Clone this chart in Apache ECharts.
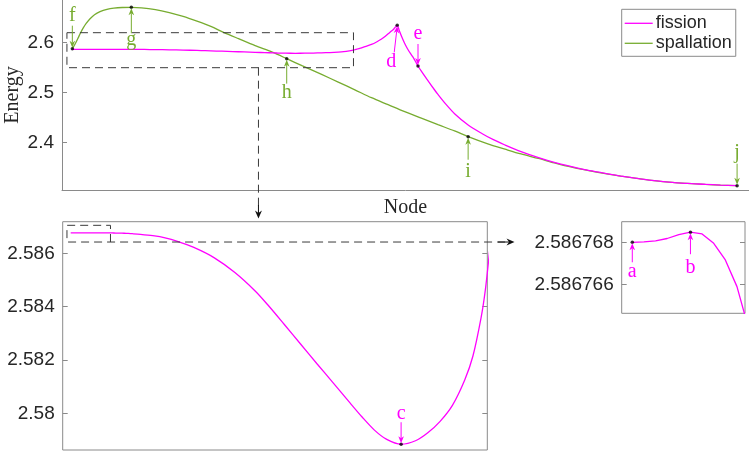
<!DOCTYPE html>
<html><head><meta charset="utf-8">
<script src="https://cdn.jsdelivr.net/npm/echarts@6/dist/echarts.min.js"></script>
<style>html,body{margin:0;padding:0;background:#fff}#c{width:749px;height:455px}</style>
</head><body><div id="c"></div>
<script>
// ---------------- data ----------------
const fissionNodes = [0,1,2,3,4,5,6,7,8,9,10,11,12,13,14,15,17,20,23,26,30,35,40,45,48,52,56,60,64,68,71,74,77,80.5,84,87,90,93,96,98,100,101,102,103,104,106,108,110,111.5,113,114.5,116,117.3,118,119,120,121,122,123,124,124.8,126,128,130.8,132,135,138,142.9,148,152,156.2,162,168.3,174,180.3,186,192.4,198,204.5,210,216.6,222,228.6,234,240];
const fissionEnergy = [2.58676800,2.58676802,2.58676807,2.58676818,2.58676837,2.58676848,2.58676840,2.58676795,2.58676716,2.58676589,2.58676389,2.5867605,2.586757,2.586752,2.586745,2.586736,2.586712,2.58666,2.58658,2.58645,2.58622,2.58583,2.58528,2.58458,2.58407,2.58334,2.58260,2.58186,2.58113,2.58040,2.57986,2.57937,2.57902,2.57884,2.57897,2.57927,2.57970,2.58030,2.58125,2.58215,2.58360,2.58460,2.58600,2.5875,2.5891,2.5925,2.5965,2.6020,2.6068,2.6130,2.6200,2.6270,2.6348,2.6250,2.6110,2.5985,2.5880,2.5790,2.5710,2.5615,2.5534,2.5430,2.5270,2.5054,2.4965,2.4760,2.4580,2.4354,2.4180,2.4060,2.3954,2.3820,2.3700,2.3605,2.3520,2.3450,2.3388,2.3332,2.3282,2.3242,2.3208,2.3185,2.3168,2.3152,2.3140];
const spallationNodes = [0,1,2,3,4,5,6.4,8,10,12.5,15,18,21.3,25,30,35,40,45,50,54.6,60,66,72.2,77.4,83.1,90,96,102,108,114,120,126,132,138,142.9,150,156.2,162,168.3,174,180.3,186,192.4,198,204.5,210,216.6,222,228.6,234,240];
const spallationEnergy = [2.5880,2.5975,2.6085,2.6200,2.6300,2.6385,2.6480,2.6560,2.6620,2.6665,2.6690,2.6704,2.6708,2.6698,2.6660,2.6600,2.6525,2.6430,2.6325,2.6208,2.6080,2.5940,2.5810,2.5681,2.5535,2.5365,2.5213,2.5058,2.4900,2.4760,2.4620,2.4490,2.4360,2.4235,2.4120,2.3975,2.3870,2.3775,2.3685,2.3598,2.3510,2.3445,2.3380,2.3330,2.3280,2.3240,2.3205,2.3185,2.3165,2.3152,2.3140];

const mainTickValues = [2.4, 2.5, 2.6];
const mainTickLabels = ['2.4', '2.5', '2.6'];
const zoomTickValues = [2.58, 2.582, 2.584, 2.586];
const zoomTickLabels = ['2.58', '2.582', '2.584', '2.586'];
const detailTickValues = [2.586766, 2.586768];
const detailTickLabels = ['2.586766', '2.586768'];

const fissionMarkLabels = ['a','b','c','d','e'];
const fissionMarkNodes = [0, 5, 80.5, 117.3, 124.8];
const spallationMarkLabels = ['f','g','h','i','j'];
const spallationMarkNodes = [0, 21.3, 77.4, 142.9, 240];

// axis windows
const mainRange = {x:[-3.73, 244.3], y:[2.3054, 2.6854]};
const zoomRange = {x:[-1.95, 101.5], y:[2.578624, 2.587186]};
const detailRange = {x:[-0.91, 9.69], y:[2.58676462, 2.58676898]};

// ---------------- style ----------------
const MAG = '#FF00FF', GRN = '#77AC30', AX = '#8a8a8a', TXT = '#262626';
const SANS = '"Liberation Sans", Arial, sans-serif';
const SERIF = '"Liberation Serif", "Times New Roman", serif';

const pairs = (xs, ys) => xs.map((x, i) => [x, ys[i]]);
const fissionData = pairs(fissionNodes, fissionEnergy);
const spallData = pairs(spallationNodes, spallationEnergy);
const valAt = (xs, ys, n) => ys[xs.indexOf(n)];

const annot = {
  a: {grid: 2, yi: 3, tail: 20, cy: 29},
  b: {grid: 2, yi: 3, tail: 22, cy: 36},
  c: {grid: 1, yi: 1, tail: -22, cy: -30},
  d: {grid: 0, yi: 0, tail: 27, tdx: -3, cy: 36, dx: -6},
  e: {grid: 0, yi: 0, tail: -22, cy: -32},
  f: {grid: 0, yi: 0, tail: -23, cy: -33},
  g: {grid: 0, yi: 0, tail: 26, cy: 32},
  h: {grid: 0, yi: 0, tail: 25, cy: 34},
  i: {grid: 0, yi: 0, tail: 23, cy: 35},
  j: {grid: 0, yi: 0, tail: -22, cy: -33}
};
const marks = [];
fissionMarkLabels.forEach((l, i) => marks.push({l, node: fissionMarkNodes[i], e: valAt(fissionNodes, fissionEnergy, fissionMarkNodes[i]), color: MAG}));
spallationMarkLabels.forEach((l, i) => marks.push({l, node: spallationMarkNodes[i], e: valAt(spallationNodes, spallationEnergy, spallationMarkNodes[i]), color: GRN}));
const dots = {0: [], 1: [], 2: []};
marks.forEach(m => dots[annot[m.l].grid].push([m.node, m.e]));

function fmt(values, labels) {
  return v => { let bi = 0, bd = Infinity; values.forEach((t, i) => { const d = Math.abs(t - v); if (d < bd) { bd = d; bi = i; } }); return labels[bi]; };
}
function yAx(gi, range, vals, labels, pos, showLabel) {
  return {
    type: 'value', gridIndex: gi, position: pos, min: range.y[0], max: range.y[1], scale: true,
    axisLine: {show: gi === 0 && pos === 'left', onZero: false, lineStyle: {color: AX, width: 1}},
    axisTick: {show: true, inside: true, length: 5, customValues: vals, lineStyle: {color: AX}},
    axisLabel: {show: showLabel, customValues: vals, formatter: fmt(vals, labels), color: TXT, fontFamily: SANS, fontSize: 19, margin: 8},
    splitLine: {show: false}
  };
}

const chart = echarts.init(document.getElementById('c'), null, {renderer: 'canvas'});
const option = {
  animation: false,
  backgroundColor: '#fff',
  grid: [
    {left: 62, top: 0, width: 687, height: 190, show: false, containLabel: false, outerBoundsMode: 'none'},
    {left: 62.7, top: 221.7, width: 424.6, height: 228.3, show: true, borderColor: AX, borderWidth: 1, backgroundColor: 'transparent', containLabel: false, outerBoundsMode: 'none'},
    {left: 621.7, top: 221.7, width: 123.3, height: 91.6, show: true, borderColor: AX, borderWidth: 1, backgroundColor: 'transparent', containLabel: false, outerBoundsMode: 'none'}
  ],
  xAxis: [
    {type: 'value', gridIndex: 0, min: mainRange.x[0], max: mainRange.x[1], axisLine: {show: true, onZero: false, lineStyle: {color: AX}}, axisTick: {show: false}, axisLabel: {show: false}, splitLine: {show: false},
     name: 'Node', nameLocation: 'middle', nameGap: 8, nameTextStyle: {fontFamily: SERIF, fontSize: 20, color: TXT, verticalAlign: 'top'}},
    {type: 'value', gridIndex: 1, min: zoomRange.x[0], max: zoomRange.x[1], axisLine: {show: false}, axisTick: {show: false}, axisLabel: {show: false}, splitLine: {show: false}},
    {type: 'value', gridIndex: 2, min: detailRange.x[0], max: detailRange.x[1], axisLine: {show: false}, axisTick: {show: false}, axisLabel: {show: false}, splitLine: {show: false}}
  ],
  yAxis: [
    yAx(0, mainRange, mainTickValues, mainTickLabels, 'left', true),
    yAx(1, zoomRange, zoomTickValues, zoomTickLabels, 'left', true),
    yAx(1, zoomRange, zoomTickValues, zoomTickLabels, 'right', false),
    yAx(2, detailRange, detailTickValues, detailTickLabels, 'left', true),
    yAx(2, detailRange, detailTickValues, detailTickLabels, 'right', false)
  ],
  legend: {
    data: ['fission', 'spallation'], orient: 'vertical', left: 621.7, top: 9.3,
    icon: 'rect', itemWidth: 28, itemHeight: 1.3, itemGap: 2, padding: [5, 4, 4, 3],
    borderColor: AX, borderWidth: 1, backgroundColor: '#fff',
    textStyle: {fontFamily: SANS, fontSize: 18, color: TXT, padding: [0, 0, 0, -2]}
  },
  series: [
    {name: 'fission', type: 'line', xAxisIndex: 0, yAxisIndex: 0, data: fissionData, symbol: 'none', smooth: 0.3, lineStyle: {color: MAG, width: 1.3}, itemStyle: {color: MAG}, z: 3},
    {name: 'spallation', type: 'line', xAxisIndex: 0, yAxisIndex: 0, data: spallData, symbol: 'none', smooth: 0.3, lineStyle: {color: GRN, width: 1.3}, itemStyle: {color: GRN}, z: 2},
    {name: 'fission-zoom', type: 'line', xAxisIndex: 1, yAxisIndex: 1, data: fissionData, symbol: 'none', smooth: 0.3, lineStyle: {color: MAG, width: 1.3}},
    {name: 'fission-detail', type: 'line', xAxisIndex: 2, yAxisIndex: 3, data: fissionData, symbol: 'none', smooth: false, lineStyle: {color: MAG, width: 1.3}},
    {name: 'dots-main', type: 'scatter', xAxisIndex: 0, yAxisIndex: 0, data: dots[0], symbolSize: 3.5, itemStyle: {color: '#000'}, z: 10},
    {name: 'dots-zoom', type: 'scatter', xAxisIndex: 1, yAxisIndex: 1, data: dots[1], symbolSize: 3.5, itemStyle: {color: '#000'}, z: 10},
    {name: 'dots-detail', type: 'scatter', xAxisIndex: 2, yAxisIndex: 3, data: dots[2], symbolSize: 3.5, itemStyle: {color: '#000'}, z: 10}
  ]
};
chart.setOption(option);

// ---------------- annotations ----------------
const gfx = [];
function arrow(x1, y1, x2, y2, color, len, wid, notch) {
  const dx = x2 - x1, dy = y2 - y1, L = Math.hypot(dx, dy), ux = dx / L, uy = dy / L, nx = -uy, ny = ux;
  const bx = x2 - ux * len, by = y2 - uy * len, kx = x2 - ux * notch, ky = y2 - uy * notch;
  gfx.push({type: 'line', shape: {x1, y1, x2: kx, y2: ky}, style: {stroke: color, lineWidth: 1}, z: 20});
  gfx.push({type: 'polygon', shape: {points: [[x2, y2], [bx + nx * wid, by + ny * wid], [kx, ky], [bx - nx * wid, by - ny * wid]]}, style: {fill: color}, z: 20});
}
function dashed(points) {
  gfx.push({type: 'polyline', shape: {points}, style: {stroke: '#3a3a3a', lineWidth: 1, lineDash: [8, 5], fill: null}, z: 15});
}
marks.forEach(m => {
  const a = annot[m.l];
  const p = chart.convertToPixel({xAxisIndex: a.grid, yAxisIndex: a.yi}, [m.node, m.e]);
  const s = a.tail > 0 ? 1 : -1;
  arrow(p[0] + (a.tdx || 0), p[1] + a.tail, p[0], p[1] + s * 1, m.color, 7, 2.8, 5);
  gfx.push({type: 'text', x: p[0] + (a.dx || 0), y: p[1] + a.cy, style: {text: m.l, fill: m.color, font: '20px ' + SERIF, align: 'center', verticalAlign: 'middle'}, z: 20});
});

// y-axis title of the main plot, centred on the main grid
const mainTop = chart.convertToPixel({xAxisIndex: 0, yAxisIndex: 0}, [mainRange.x[0], mainRange.y[1]]);
const mainBot = chart.convertToPixel({xAxisIndex: 0, yAxisIndex: 0}, [mainRange.x[0], mainRange.y[0]]);
gfx.push({type: 'text', x: 12.5, y: (mainTop[1] + mainBot[1]) / 2, rotation: Math.PI / 2, style: {text: 'Energy', fill: TXT, font: '20px ' + SERIF, align: 'center', verticalAlign: 'middle'}, z: 20});

const r0a = chart.convertToPixel({xAxisIndex: 0, yAxisIndex: 0}, [zoomRange.x[0], 2.62]);
const r0b = chart.convertToPixel({xAxisIndex: 0, yAxisIndex: 0}, [zoomRange.x[1], 2.55]);
dashed([[r0a[0], r0a[1]], [r0b[0], r0a[1]], [r0b[0], r0b[1]], [r0a[0], r0b[1]], [r0a[0], r0a[1]]]);
const cx0 = chart.convertToPixel({xAxisIndex: 0, yAxisIndex: 0}, [67.2, 2.55]);
dashed([[cx0[0], r0b[1]], [cx0[0], 212]]);
arrow(cx0[0], 205, cx0[0], 218.5, '#111', 8, 3.5, 5.5);

const r1a = chart.convertToPixel({xAxisIndex: 1, yAxisIndex: 1}, [detailRange.x[0], 2.58705]);
const r1b = chart.convertToPixel({xAxisIndex: 1, yAxisIndex: 1}, [detailRange.x[1], 2.586424]);
dashed([[r1b[0], r1b[1]], [r1b[0], r1a[1]], [r1a[0], r1a[1]], [r1a[0], r1b[1]], [507, r1b[1]]]);
arrow(498, r1b[1], 514.5, r1b[1], '#111', 8, 3.5, 5.5);

chart.setOption({graphic: gfx});
</script></body></html>
